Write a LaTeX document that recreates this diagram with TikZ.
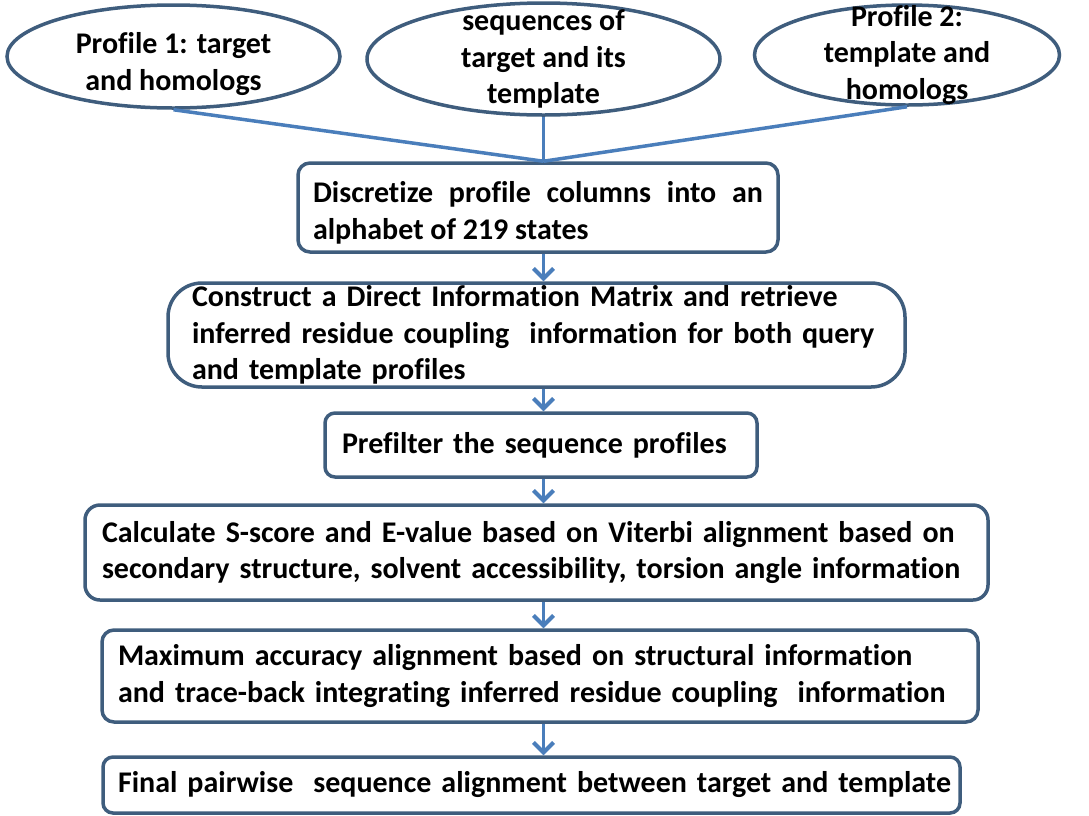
\documentclass[tikz,border=0pt]{standalone}
\usepackage{fontspec}
\setmainfont[Ligatures=NoCommon]{Carlito}
\usetikzlibrary{shapes.geometric,arrows.meta}
\definecolor{rimblue}{HTML}{3F5D7D}
\definecolor{flowblue}{HTML}{4A7EBB}

\begin{document}
\begin{tikzpicture}[x=1pt,y=-1pt,
  txt/.style={font=\fontsize{30}{36.5}\selectfont\bfseries, text=black},
  oval/.style={txt, ellipse, draw=rimblue, line width=3.5pt, align=center, inner xsep=4pt, inner ysep=-15pt},
  stage/.style={txt, draw=rimblue, line width=3.5pt, inner ysep=0pt, align=left},
  feed/.style={draw=flowblue, line width=3.5pt},
  flowarrow/.style={draw=flowblue, line width=3.5pt, -{Straight Barb[length=10pt,width=20pt,line width=4pt]}}]
\useasboundingbox (0,0) rectangle (1089,815);
\node[oval, minimum width=333pt, minimum height=103pt] (prof1) at (173.5,56.5) {\rule{0pt}{36pt}Profile 1: target\\and homologs};
\node[oval, minimum width=353pt, minimum height=112pt] (seqs) at (543.5,59) {sequences of\\target and its\\template};
\node[oval, minimum width=305pt, minimum height=100pt] (prof2) at (907,55) {Profile 2:\\template and\\homologs};

\node[stage, rounded corners=12pt, inner xsep=15pt, text width=450pt, align=justify, minimum height=89pt] (disc) at (538,207.5) {\rule{0pt}{32pt}Discretize profile columns into an\linebreak alphabet of 219 states};
\node[stage, rounded corners=34pt, inner xsep=24pt, text width=689pt, minimum height=104pt] (dim) at (536.5,335) {Construct a Direct Information Matrix and retrieve\\inferred residue coupling\ \ information for both query\\and template profiles};
\node[stage, rounded corners=10pt, inner xsep=17pt, text width=398pt, minimum height=64pt] (prefilt) at (541,445) {Prefilter the sequence profiles};
\node[stage, rounded corners=15pt, inner xsep=17pt, text width=869pt, minimum height=95pt] (score) at (536.5,552.5) {Calculate S-score and E-value based on Viterbi alignment based on\\secondary structure, solvent accessibility, torsion angle information};
\node[stage, rounded corners=12pt, inner xsep=16pt, text width=844pt, minimum height=92pt] (maxacc) at (540,676) {Maximum accuracy alignment based on structural information\\and trace-back integrating inferred residue coupling\ \ information};
\node[stage, rounded corners=10pt, inner xsep=15pt, text width=827pt, minimum height=56pt] (final) at (531.5,785) {\mbox{Final pairwise\ \ sequence alignment between target and template}};

\coordinate (join) at (seqs.south |- disc.north);
\draw[feed] (prof1.south) -- (join);
\draw[feed] (seqs.south) -- (join);
\draw[feed] (prof2.south) -- (join);

\draw[flowarrow] (disc.south -| join) -- (dim.north -| join);
\draw[flowarrow] (dim.south -| join) -- (prefilt.north -| join);
\draw[flowarrow] (prefilt.south -| join) -- (score.north -| join);
\draw[flowarrow] (score.south -| join) -- (maxacc.north -| join);
\draw[flowarrow] (maxacc.south -| join) -- (final.north -| join);
\end{tikzpicture}
\end{document}
